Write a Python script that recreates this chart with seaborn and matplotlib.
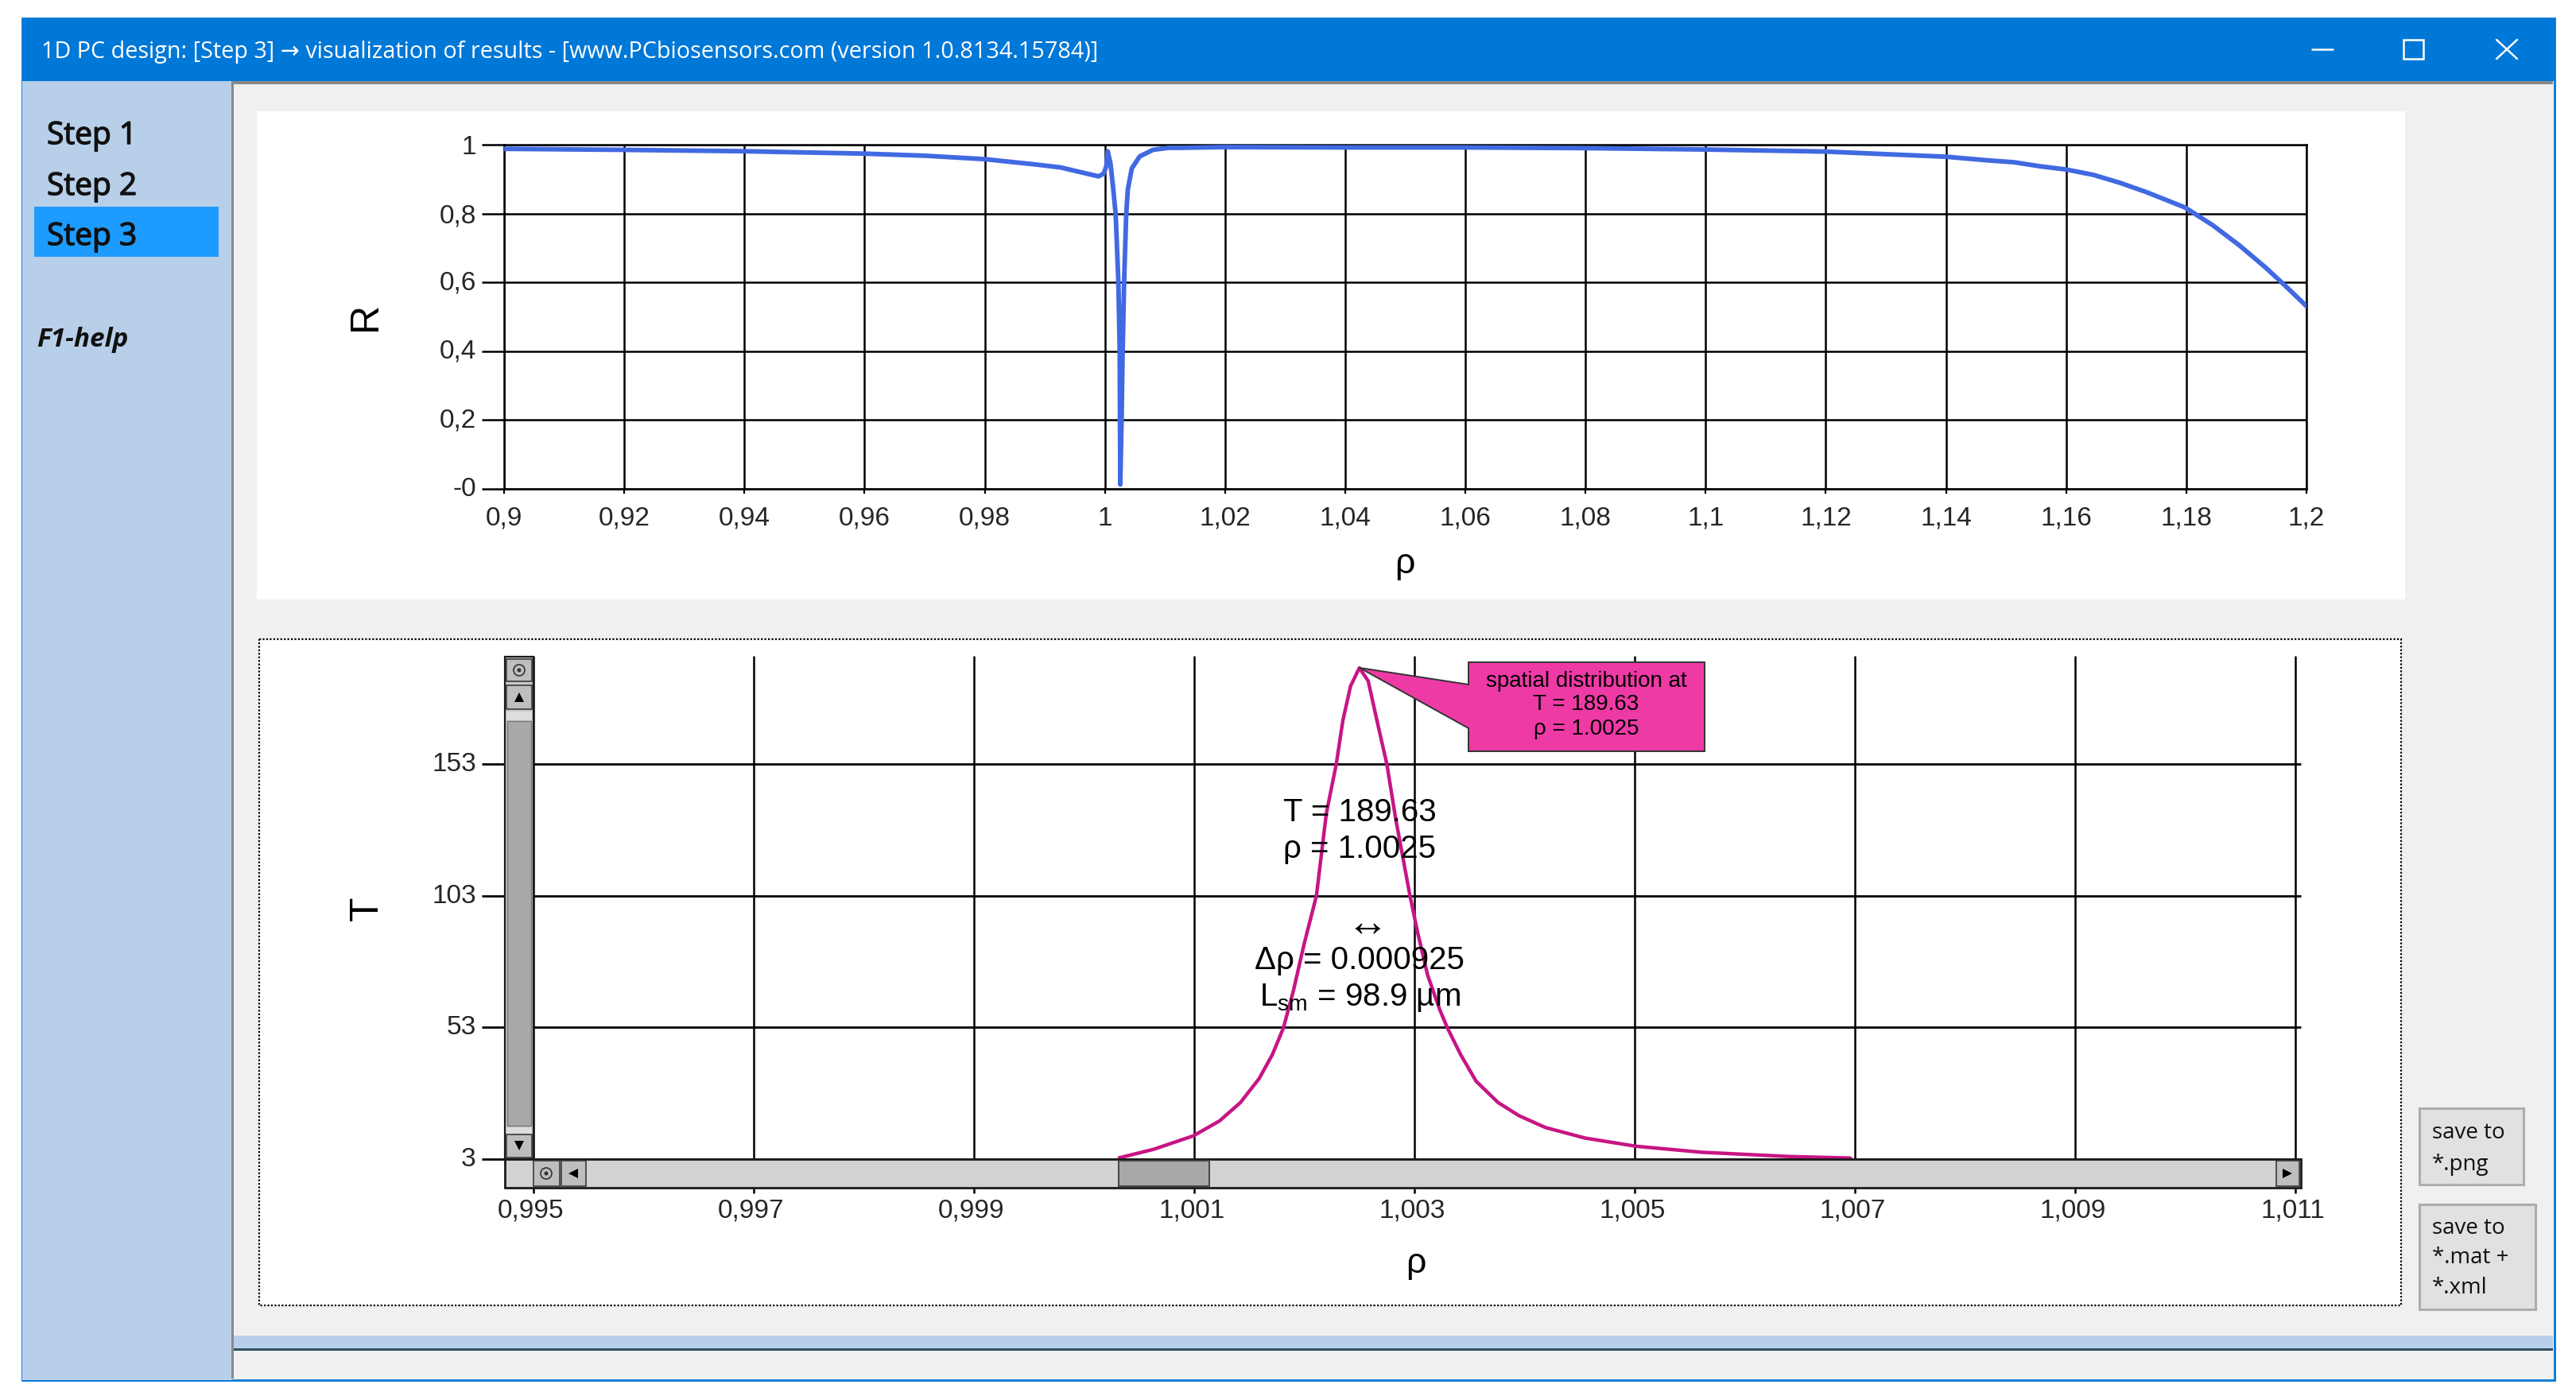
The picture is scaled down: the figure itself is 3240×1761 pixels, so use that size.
import matplotlib
matplotlib.use("Agg")
import matplotlib.pyplot as plt
from matplotlib.patches import Rectangle, Polygon, Circle
from matplotlib.transforms import ScaledTranslation
import matplotlib.patheffects as pe
import seaborn as sns

sns.set_theme(style="white")
plt.rcParams['font.family'] = ['Liberation Sans', 'DejaVu Sans']
plt.rcParams['mathtext.default'] = 'regular'

W, H = 3240, 1761

# ---------- data ----------
rho_r = [0.9, 0.92, 0.94, 0.96, 0.97, 0.98, 0.9882, 0.9926, 0.99748, 0.99894, 0.99981, 1.00026, 1.00047, 1.00092,
         1.00136, 1.0018, 1.00225, 1.00247, 1.00252, 1.00256, 1.00278, 1.00296, 1.0032, 1.00355, 1.00382,
         1.00448, 1.0058, 1.008, 1.01065, 1.0129, 1.02, 1.04, 1.06, 1.08, 1.1, 1.12, 1.14, 1.14693, 1.15133,
         1.15575, 1.16, 1.1646, 1.169, 1.1734, 1.1798, 1.1844, 1.1888, 1.1932, 1.1963, 1.2]
r_vals = [0.988, 0.985, 0.981, 0.974, 0.968, 0.958, 0.943, 0.934, 0.914, 0.908, 0.916, 0.939, 0.981, 0.947,
          0.878, 0.797, 0.6, 0.4, 0.2, 0.013, 0.2, 0.4, 0.6, 0.797, 0.87,
          0.931, 0.966, 0.985, 0.991, 0.991, 0.993, 0.992, 0.992, 0.99, 0.986, 0.98, 0.965, 0.9545, 0.949,
          0.937, 0.928, 0.912, 0.889, 0.862, 0.8175, 0.766, 0.708, 0.643, 0.593, 0.531]

rho_t = [1.00032, 1.00063, 1.00099, 1.00123, 1.00142, 1.00159, 1.00171, 1.00181, 1.0019, 1.002, 1.00211, 1.0022,
         1.00229, 1.00235, 1.00242, 1.0025, 1.00258, 1.00266, 1.00275, 1.00283, 1.00296, 1.00303, 1.00312, 1.00323,
         1.0033, 1.00342, 1.00356, 1.00376, 1.00395, 1.00419, 1.00455, 1.00501, 1.00561, 1.0064, 1.00696]
t_vals = [3.5, 6.7, 11.8, 17.5, 24.5, 33.6, 42.7, 52.8, 66.8, 85, 103, 134.3,
          153, 169.6, 182.7, 189.63, 184.7, 169.6, 153, 132.3, 103, 89, 72.9, 59.8,
          52.8, 42.7, 32.6, 24.5, 19.5, 15, 11, 7.9, 5.6, 4, 3.4]

r_xticks = [0.9, 0.92, 0.94, 0.96, 0.98, 1.0, 1.02, 1.04, 1.06, 1.08, 1.1, 1.12, 1.14, 1.16, 1.18, 1.2]
r_xlabels = ['0,9', '0,92', '0,94', '0,96', '0,98', '1', '1,02', '1,04', '1,06', '1,08', '1,1', '1,12',
             '1,14', '1,16', '1,18', '1,2']
r_yticks = [0, 0.2, 0.4, 0.6, 0.8, 1]
r_ylabels = ['-0', '0,2', '0,4', '0,6', '0,8', '1']
t_xticks = [0.995, 0.997, 0.999, 1.001, 1.003, 1.005, 1.007, 1.009, 1.011]
t_xlabels = ['0,995', '0,997', '0,999', '1,001', '1,003', '1,005', '1,007', '1,009', '1,011']
t_yticks = [3, 53, 103, 153]

# ---------- figure and layers ----------
fig = plt.figure(figsize=(W / 100, H / 100), dpi=100, facecolor='white')


def px_axes(l, t, r, b, z):
    return fig.add_axes([l / W, 1 - b / H, (r - l) / W, (b - t) / H], zorder=z)


def chrome_axes(z):
    a = fig.add_axes([0, 0, 1, 1], zorder=z)
    a.set_xlim(0, W)
    a.set_ylim(H, 0)
    a.axis('off')
    a.patch.set_visible(False)
    return a


def shift_labels(labels, dx, dy):
    off = ScaledTranslation(dx / 100, dy / 100, fig.dpi_scale_trans)
    for lab in labels:
        lab.set_transform(lab.get_transform() + off)


bg = chrome_axes(0)
fg = chrome_axes(5)


def rect(a, x0, y0, x1, y1, fc, ec='none', lw=0, **kw):
    a.add_patch(Rectangle((x0, y0), x1 - x0, y1 - y0, facecolor=fc, edgecolor=ec, linewidth=lw, **kw))


BLUE = '#0078D7'
SIDE = '#B8CFE9'
GREY = '#F0F0F0'
UI = ['Open Sans', 'DejaVu Sans']

# window
rect(bg, 28, 23, 3213, 1736, GREY, BLUE, 2.0)
rect(bg, 28, 23, 3213, 102, BLUE)
rect(bg, 28, 102, 292, 1736, SIDE)
rect(bg, 292, 102, 3211, 106, '#8A8A8A')
rect(bg, 291, 102, 294, 1734, '#8A8A8A')
rect(bg, 294, 1680, 3211, 1696, SIDE)
rect(bg, 294, 1696, 3211, 1699, '#2F4F5F')
rect(bg, 43, 260, 275, 323, '#1E9BFF')
rect(bg, 323, 140, 3025, 754, 'white')
rect(bg, 326, 804, 3020, 1642, 'white', 'black', 1.6, linestyle=(0, (1, 1)))

bg.text(52, 66, '1D PC design: [Step 3] → visualization of results - [www.PCbiosensors.com (version 1.0.8134.15784)]',
        color='white', fontsize=20.7, family=UI, va='center', ha='left')
for label, yy in zip(['Step 1', 'Step 2', 'Step 3'], [171, 235, 298]):
    bg.text(59, yy, label, fontsize=28, family=UI, va='center', ha='left', color='#111111',
            path_effects=[pe.withStroke(linewidth=1.0, foreground='#111111')])
bg.text(46, 428, 'F1-help', fontsize=24, family=UI, weight='bold', style='italic', va='center', ha='left',
        color='#111111')

# window controls
bg.plot([2908, 2934], [62, 62], color='white', lw=1.8)
bg.add_patch(Rectangle((3023, 50), 25, 24, facecolor='none', edgecolor='white', linewidth=1.8))
bg.plot([3140, 3166], [50, 74], color='white', lw=1.8)
bg.plot([3140, 3166], [74, 50], color='white', lw=1.8)

# buttons
for x0, y0, x1, y1 in [(3043, 1394, 3174, 1490), (3043, 1515, 3189, 1647)]:
    rect(bg, x0, y0, x1, y1, '#E1E1E1', '#ADADAD', 2.2)
for label, yy in [('save to', 1425), ('*.png', 1465), ('save to', 1545), ('*.mat +', 1582), ('*.xml', 1620)]:
    bg.text(3059, yy, label, fontsize=20, family=UI, va='center', ha='left', color='#111111')

# ---------- reflectance plot ----------
ax1 = px_axes(634, 182, 2901, 615, 1)
ax1.patch.set_visible(False)
sns.lineplot(x=rho_r, y=r_vals, ax=ax1, color='#4169E1', linewidth=4.2, estimator=None, sort=False, zorder=3)
ax1.set_xlim(0.9, 1.2)
ax1.set_ylim(0, 1)
ax1.set_xticks(r_xticks, r_xlabels)
ax1.set_yticks(r_yticks, r_ylabels)
ax1.grid(True, color='black', linewidth=1.8)
ax1.tick_params(axis='x', length=4.5, width=1.6, pad=11, labelsize=24, color='black', bottom=True)
ax1.tick_params(axis='y', length=20, width=1.8, pad=5, labelsize=24, color='black', left=True)
for s in ax1.spines.values():
    s.set_color('black')
    s.set_linewidth(1.8)
ax1.set_xlabel('')
ax1.set_ylabel('')
shift_labels(ax1.get_yticklabels()[:-2], 0, 3)
fg.text(1767, 709, 'ρ', fontsize=32, ha='center', va='center', color='black')
fg.text(460, 398, 'R', fontsize=36, ha='center', va='center', rotation=90, color='black')

# ---------- transmittance plot ----------
ax2 = px_axes(671, 826, 2887, 1458, 1)
ax2.patch.set_visible(False)
sns.lineplot(x=rho_t, y=t_vals, ax=ax2, color='#C71585', linewidth=3.2, estimator=None, sort=False, zorder=3)
ax2.set_xlim(0.995, 1.011)
ax2.set_ylim(3, 193.9)
ax2.set_xticks(t_xticks, t_xlabels)
ax2.set_yticks(t_yticks, [str(v) for v in t_yticks])
ax2.grid(True, axis='x', color='black', linewidth=1.8, clip_on=False)
for gl in ax2.get_xgridlines():
    gl.set_clip_on(False)
ax2.hlines(t_yticks, 0.995, 1.01105, color='black', linewidth=2.0, clip_on=False, zorder=2)
ax2.tick_params(axis='x', length=31, width=1.8, pad=5, labelsize=24, color='black', bottom=True)
ax2.tick_params(axis='y', length=47, width=2.0, pad=5, labelsize=24, color='black', left=True)
for s in ax2.spines.values():
    s.set_visible(False)
ax2.set_xlabel('')
ax2.set_ylabel('')
shift_labels(ax2.get_yticklabels(), 0, 3)
shift_labels(ax2.get_xticklabels(), -3, 0)
fg.text(1781, 1590, 'ρ', fontsize=32, ha='center', va='center', color='black')
fg.text(462, 1143, 'T', fontsize=36, ha='center', va='center', rotation=90, color='black')

# ---------- scrollbars ----------
rect(fg, 635, 1458, 2894, 1494, '#D2D2D2', '#1A1A1A', 2.0)
rect(fg, 635, 826, 671, 1458, '#C8C8C8', '#1A1A1A', 1.6)


def button(x0, y0, x1, y1):
    rect(fg, x0, y0, x1, y1, '#BEBEBE', '#3A3A3A', 1.2)


def tri(cx, cy, s, d):
    pts = {'u': [(cx - s, cy + s), (cx + s, cy + s), (cx, cy - s)],
           'd': [(cx - s, cy - s), (cx + s, cy - s), (cx, cy + s)],
           'l': [(cx + s, cy - s), (cx + s, cy + s), (cx - s, cy)],
           'r': [(cx - s, cy - s), (cx - s, cy + s), (cx + s, cy)]}[d]
    fg.add_patch(Polygon(pts, closed=True, facecolor='black', edgecolor='none'))


def zoom_btn(cx, cy):
    fg.add_patch(Circle((cx, cy), 7, facecolor='none', edgecolor='#333333', linewidth=1.2))
    fg.add_patch(Circle((cx, cy), 2.5, facecolor='#333333', edgecolor='none'))


button(637, 829, 669, 857); zoom_btn(653, 843)
button(637, 862, 669, 892); tri(653, 877, 6, 'u')
rect(fg, 637, 895, 669, 906, '#DDDDDD')
rect(fg, 638, 907, 668, 1416, '#A8A8A8', '#777777', 1.0)
rect(fg, 637, 1418, 669, 1426, '#DDDDDD')
button(637, 1427, 669, 1456); tri(653, 1441, 6, 'd')
button(671, 1460, 704, 1492); zoom_btn(687, 1476)
button(706, 1460, 737, 1492); tri(721, 1476, 6, 'l')
rect(fg, 1407, 1460, 1521, 1492, '#A8A8A8', '#444444', 1.4)
button(2863, 1460, 2892, 1492); tri(2877, 1476, 6, 'r')

# ---------- callout and result text ----------
fg.add_patch(Polygon([(1847, 833), (2144, 833), (2144, 945), (1847, 945), (1847, 916), (1710, 840), (1847, 861)],
                     closed=True, facecolor='#EE3AA5', edgecolor='#333333', linewidth=1.4))
for label, yy in [('spatial distribution at', 857), ('T = 189.63', 886), ('ρ = 1.0025', 917)]:
    fg.text(1995, yy, label, fontsize=20, ha='center', va='center', color='black')
for label, xx, yy, fs in [('T = 189.63', 1710, 1022, 29), ('ρ = 1.0025', 1710, 1068, 29),
                          ('↔', 1720, 1163, 38), ('Δρ = 0.000925', 1710, 1208, 29),
                          ('L$_{sm}$ = 98.9 µm', 1710, 1255, 29)]:
    fg.text(xx, yy, label, fontsize=fs, ha='center', va='center', color='black')

fig.savefig('out.png', dpi=100, facecolor='white')
